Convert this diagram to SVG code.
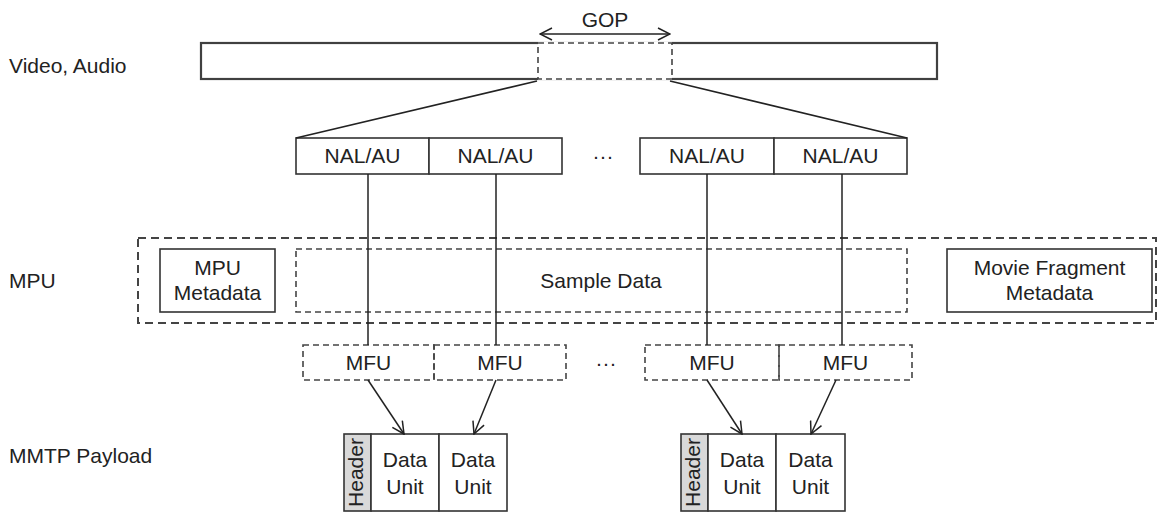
<svg xmlns="http://www.w3.org/2000/svg" width="1159" height="513" viewBox="0 0 1159 513">
<style>
text{font-family:"Liberation Sans",Arial,sans-serif;font-size:21px;fill:#222}
.c{text-anchor:middle}
.solid{fill:#fff;stroke:#333;stroke-width:1.6}
.bar{fill:#fff;stroke:#404040;stroke-width:2.2}
.dash{fill:none;stroke:#444;stroke-width:1.6;stroke-dasharray:6 4}
.outer{fill:none;stroke:#444;stroke-width:2;stroke-dasharray:8 5}
.ln{stroke:#222;stroke-width:1.5;fill:none}
.hdr{fill:#d9d9d9;stroke:#333;stroke-width:1.6}
</style>
<defs>
<marker id="open" viewBox="0 0 14 14" refX="13" refY="7" markerWidth="14" markerHeight="14" markerUnits="userSpaceOnUse" orient="auto-start-reverse">
<path d="M1,1 L13,7 L1,13" fill="none" stroke="#222" stroke-width="1.5"/>
</marker>
</defs>
<g id="labels">
<text x="9" y="73">Video, Audio</text>
<text x="9" y="288">MPU</text>
<text x="9" y="463">MMTP Payload</text>
</g>
<g id="video-bar">
<rect class="bar" x="201" y="43" width="736" height="36"/>
</g>
<g id="gop">
<rect x="538" y="43" width="134" height="36" fill="#fff" stroke="none"/>
<path d="M538,43 H672 M538,79 H672" stroke="#fff" stroke-width="2.4"/>
<rect class="dash" x="538" y="43" width="134" height="36"/>
<text class="c" x="605" y="27" font-size="20">GOP</text>
</g>
<g id="nal-1"><rect class="solid" x="296" y="138" width="133" height="36"/><text class="c" x="362.5" y="163">NAL/AU</text></g>
<g id="nal-2"><rect class="solid" x="429" y="138" width="133" height="36"/><text class="c" x="495.5" y="163">NAL/AU</text></g>
<g id="nal-dots"><text class="c" x="603" y="163">···</text></g>
<g id="nal-3"><rect class="solid" x="640" y="138" width="134" height="36"/><text class="c" x="707" y="163">NAL/AU</text></g>
<g id="nal-4"><rect class="solid" x="774" y="138" width="133" height="36"/><text class="c" x="840.5" y="163">NAL/AU</text></g>
<g id="mpu">
<rect class="outer" x="138" y="238" width="1018" height="85"/>
</g>
<g id="mpu-metadata"><rect class="solid" x="160" y="249" width="115" height="63"/><text class="c" x="217.5" y="275">MPU</text><text class="c" x="217.5" y="300">Metadata</text></g>
<g id="sample-data"><rect class="dash" x="296" y="249" width="611" height="63"/><text class="c" x="601" y="288">Sample Data</text></g>
<g id="movie-fragment-metadata"><rect class="solid" x="947" y="249" width="205" height="63"/><text class="c" x="1049.5" y="275">Movie Fragment</text><text class="c" x="1049.5" y="300">Metadata</text></g>
<g id="mfu-1"><rect class="dash" x="303" y="345" width="131" height="35"/><text class="c" x="368.5" y="370">MFU</text></g>
<g id="mfu-2"><rect class="dash" x="434" y="345" width="132" height="35"/><text class="c" x="500" y="370">MFU</text></g>
<g id="mfu-dots"><text class="c" x="606" y="370">···</text></g>
<g id="mfu-3"><rect class="dash" x="645" y="345" width="134" height="35"/><text class="c" x="712" y="370">MFU</text></g>
<g id="mfu-4"><rect class="dash" x="779" y="345" width="133" height="35"/><text class="c" x="845.5" y="370">MFU</text></g>
<g id="payload-1">
<rect class="hdr" x="344" y="434" width="27" height="77"/>
<text class="c" font-size="16" transform="translate(363,472.5) rotate(-90)">Header</text>
<rect class="solid" x="371" y="434" width="68" height="77"/>
<text class="c" x="405" y="467">Data</text><text class="c" x="405" y="494">Unit</text>
<rect class="solid" x="439" y="434" width="68" height="77"/>
<text class="c" x="473" y="467">Data</text><text class="c" x="473" y="494">Unit</text>
</g>
<g id="payload-2">
<rect class="hdr" x="681" y="434" width="27" height="77"/>
<text class="c" font-size="16" transform="translate(700,472.5) rotate(-90)">Header</text>
<rect class="solid" x="708" y="434" width="68" height="77"/>
<text class="c" x="742" y="467">Data</text><text class="c" x="742" y="494">Unit</text>
<rect class="solid" x="776" y="434" width="69" height="77"/>
<text class="c" x="810.5" y="467">Data</text><text class="c" x="810.5" y="494">Unit</text>
</g>
<g id="connectors">
<line class="ln" x1="540" y1="34" x2="670" y2="34" marker-start="url(#open)" marker-end="url(#open)"/>
<line class="ln" x1="537" y1="81" x2="296" y2="138"/>
<line class="ln" x1="670" y1="81" x2="907" y2="138"/>
<line class="ln" x1="368" y1="174" x2="368" y2="345"/>
<line class="ln" x1="496" y1="174" x2="496" y2="345"/>
<line class="ln" x1="707" y1="174" x2="707" y2="345"/>
<line class="ln" x1="842" y1="174" x2="842" y2="345"/>
<line class="ln" x1="368" y1="380" x2="404" y2="434" marker-end="url(#open)"/>
<line class="ln" x1="496" y1="380" x2="474" y2="434" marker-end="url(#open)"/>
<line class="ln" x1="707" y1="380" x2="742" y2="434" marker-end="url(#open)"/>
<line class="ln" x1="836" y1="380" x2="811" y2="434" marker-end="url(#open)"/>
</g>
</svg>
